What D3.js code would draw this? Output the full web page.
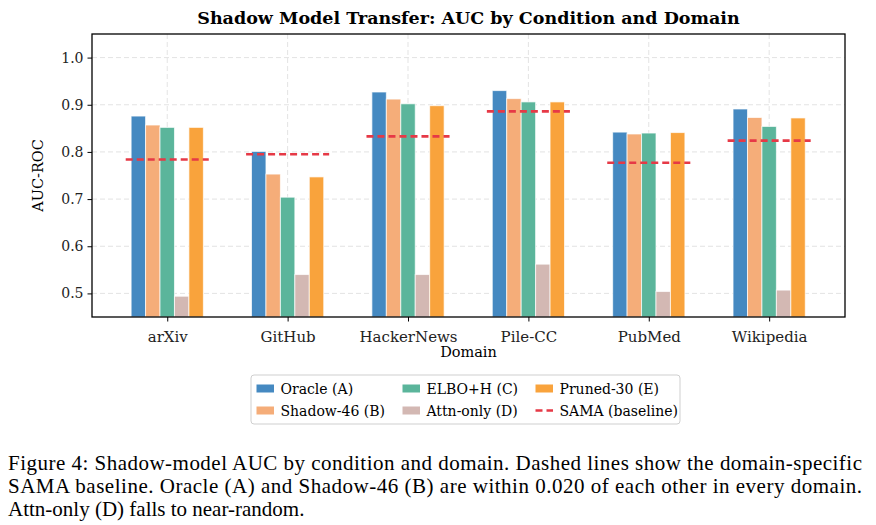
<!DOCTYPE html>
<html>
<head>
<meta charset="utf-8">
<script src="https://cdn.jsdelivr.net/npm/d3@7"></script>
<style>
  body { margin: 0; background: #fff; }
  svg { display: block; }
</style>
</head>
<body>
<script>
// data
var domains = ["arXiv", "GitHub", "HackerNews", "Pile-CC", "PubMed", "Wikipedia"];
var conditions = ["Oracle (A)", "Shadow-46 (B)", "ELBO+H (C)", "Attn-only (D)", "Pruned-30 (E)"];
var oracle   = [0.876, 0.801, 0.927, 0.930, 0.842, 0.891];
var shadow46 = [0.857, 0.753, 0.912, 0.913, 0.838, 0.873];
var elboH    = [0.852, 0.704, 0.902, 0.906, 0.840, 0.854];
var attnOnly = [0.494, 0.540, 0.540, 0.562, 0.504, 0.507];
var pruned30 = [0.852, 0.747, 0.898, 0.906, 0.841, 0.872];
var sama     = [0.784, 0.795, 0.833, 0.886, 0.777, 0.824];
var yTicks = [0.5, 0.6, 0.7, 0.8, 0.9, 1.0];

var colors = ["#4589c1", "#f5ad79", "#5bb59b", "#d3b8b3", "#f9a33c"];
var samaColor = "#e63946";

function init() {
    var w = 876, h = 525;
    var left = 92, right = 845, top = 34, bottom = 317;
    var series = [oracle, shadow46, elboH, attnOnly, pruned30];

    var svg = d3.select("body").append("svg")
        .attr("width", w)
        .attr("height", h);

    var xScale = d3.scaleLinear()
        .domain([-0.625, 5.63])
        .range([left, right]);
    var yScale = d3.scaleLinear()
        .domain([0.45, 1.05])
        .range([bottom, top]);

    var barW = 0.12;

    // grid
    var grid = svg.append("g").attr("stroke", "#dcdcdc").attr("stroke-width", 0.8)
        .attr("stroke-dasharray", "5,3");
    grid.selectAll("line.gy").data(yTicks).enter().append("line")
        .attr("x1", left).attr("x2", right)
        .attr("y1", d => yScale(d)).attr("y2", d => yScale(d));
    grid.selectAll("line.gx").data(domains).enter().append("line")
        .attr("x1", (d, i) => xScale(i)).attr("x2", (d, i) => xScale(i))
        .attr("y1", top).attr("y2", bottom);

    // bars
    series.forEach(function(vals, s) {
        svg.append("g").selectAll("rect")
            .data(vals)
            .enter()
            .append("rect")
            .attr("x", (d, i) => xScale(i + (s - 2.5) * barW))
            .attr("y", d => yScale(d))
            .attr("width", xScale(barW) - xScale(0))
            .attr("height", d => bottom - yScale(d))
            .attr("fill", colors[s])
            .attr("stroke", "#fff")
            .attr("stroke-opacity", 0.7)
            .attr("stroke-width", 1);
    });

    // SAMA baseline
    svg.append("g").selectAll("line")
        .data(sama)
        .enter()
        .append("line")
        .attr("x1", (d, i) => xScale(i - 0.345))
        .attr("x2", (d, i) => xScale(i + 0.345))
        .attr("y1", d => yScale(d))
        .attr("y2", d => yScale(d))
        .attr("stroke", samaColor)
        .attr("stroke-width", 2.6)
        .attr("stroke-dasharray", "7,4");

    // axes
    var yAxis = d3.axisLeft(yScale).tickValues(yTicks).tickFormat(d3.format(".1f"))
        .tickSizeOuter(0).tickSize(4.5).tickPadding(4);
    var gy = svg.append("g").attr("transform", "translate(" + left + ",0)").call(yAxis);
    var xAxis = d3.axisBottom(xScale).tickValues(d3.range(domains.length))
        .tickFormat(i => domains[i]).tickSizeOuter(0).tickSize(4.5).tickPadding(10);
    var gx = svg.append("g").attr("transform", "translate(0," + bottom + ")").call(xAxis);
    [gx, gy].forEach(function(g) {
        g.select(".domain").remove();
        g.selectAll("text").attr("font-family", "DejaVu Serif").attr("fill", "#222");
        g.selectAll("line").attr("stroke", "#000").attr("stroke-width", 1);
    });
    gy.selectAll("text").attr("font-size", 14);
    gx.selectAll("text").attr("font-size", 15);

    // frame
    svg.append("rect")
        .attr("x", left).attr("y", top)
        .attr("width", right - left).attr("height", bottom - top)
        .attr("fill", "none").attr("stroke", "#000").attr("stroke-width", 1.3);

    // titles
    svg.append("text")
        .attr("x", (left + right) / 2).attr("y", 24)
        .attr("text-anchor", "middle")
        .attr("font-family", "DejaVu Serif").attr("font-weight", "bold")
        .attr("font-size", 17.5)
        .text("Shadow Model Transfer: AUC by Condition and Domain");
    svg.append("text")
        .attr("transform", "rotate(-90)")
        .attr("x", -(top + bottom) / 2).attr("y", 43)
        .attr("text-anchor", "middle")
        .attr("font-family", "DejaVu Serif").attr("font-size", 14.5)
        .text("AUC-ROC");
    svg.append("text")
        .attr("x", (left + right) / 2).attr("y", 357)
        .attr("text-anchor", "middle")
        .attr("font-family", "DejaVu Serif").attr("font-size", 14.5)
        .text("Domain");

    // legend
    var lg = svg.append("g");
    lg.append("rect")
        .attr("x", 251).attr("y", 375).attr("width", 429).attr("height", 49)
        .attr("rx", 3).attr("fill", "#fff").attr("stroke", "#cfcfcf").attr("stroke-width", 1);
    var items = conditions.map((c, i) => ({label: c, color: colors[i], kind: "bar"}));
    items.push({label: "SAMA (baseline)", color: samaColor, kind: "line"});
    var colX = [256.5, 402.5, 535.5];
    var rowY = [388.5, 410.5];
    items.forEach(function(it, i) {
        var cx = colX[Math.floor(i / 2)], cy = rowY[i % 2];
        if (it.kind === "bar") {
            lg.append("rect").attr("x", cx).attr("y", cy - 4).attr("width", 17.5).attr("height", 8)
                .attr("fill", it.color);
        } else {
            lg.append("line").attr("x1", cx).attr("x2", cx + 17.5).attr("y1", cy).attr("y2", cy)
                .attr("stroke", it.color).attr("stroke-width", 2.6).attr("stroke-dasharray", "7,4");
        }
        lg.append("text").attr("x", cx + 24).attr("y", cy + 5)
            .attr("font-family", "DejaVu Serif").attr("font-size", 14)
            .text(it.label);
    });

    // caption
    var caption = [
        "Figure 4: Shadow-model AUC by condition and domain. Dashed lines show the domain-specific",
        "SAMA baseline.  Oracle (A) and Shadow-46 (B) are within 0.020 of each other in every domain.",
        "Attn-only (D) falls to near-random."
    ];
    caption.forEach(function(line, i) {
        var t = svg.append("text")
            .attr("x", 8).attr("y", 470 + i * 23)
            .attr("font-family", "Liberation Serif").attr("font-size", 21)
            .text(line);
        if (i < 2) t.attr("textLength", 854).attr("lengthAdjust", "spacing");
    });
}
window.onload = init;
</script>
</body>
</html>
